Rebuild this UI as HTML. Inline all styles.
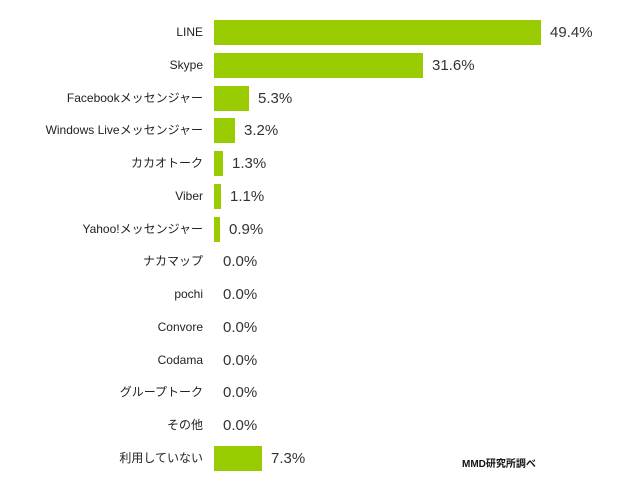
<!DOCTYPE html><html><head><style>
body{margin:0;width:638px;height:497px;background:#fff;position:relative;overflow:hidden;font-family:"Liberation Sans","Noto Sans CJK JP",sans-serif}
.l{position:absolute;right:435px;font-size:12px;color:#222;white-space:nowrap;line-height:24px}
.b{position:absolute;left:214px;height:25px;background:#99cc00}
.v{position:absolute;font-size:15px;color:#333;line-height:25px}
</style></head><body>
<div id="c"></div>
<div style="position:absolute;left:462px;top:455px;font-size:10px;font-weight:bold;color:#111">MMD研究所調べ</div>
<script>
var d=[["LINE",49.4],["Skype",31.6],["Facebookメッセンジャー",5.3],["Windows Liveメッセンジャー",3.2],["カカオトーク",1.3],["Viber",1.1],["Yahoo!メッセンジャー",0.9],["ナカマップ",0],["pochi",0],["Convore",0],["Codama",0],["グループトーク",0],["その他",0],["利用していない",7.3]];
var h="";d.forEach(function(r,i){var t=20+i*32.75,w=Math.round(r[1]*6.62);
h+='<div class="l" style="top:'+t+'px">'+r[0]+'</div>';
if(w>0)h+='<div class="b" style="top:'+t+'px;width:'+w+'px"></div>';
h+='<div class="v" style="top:'+t+'px;left:'+(214+w+9)+'px">'+r[1].toFixed(1)+'%</div>';});
document.getElementById("c").innerHTML=h;
</script></body></html>
